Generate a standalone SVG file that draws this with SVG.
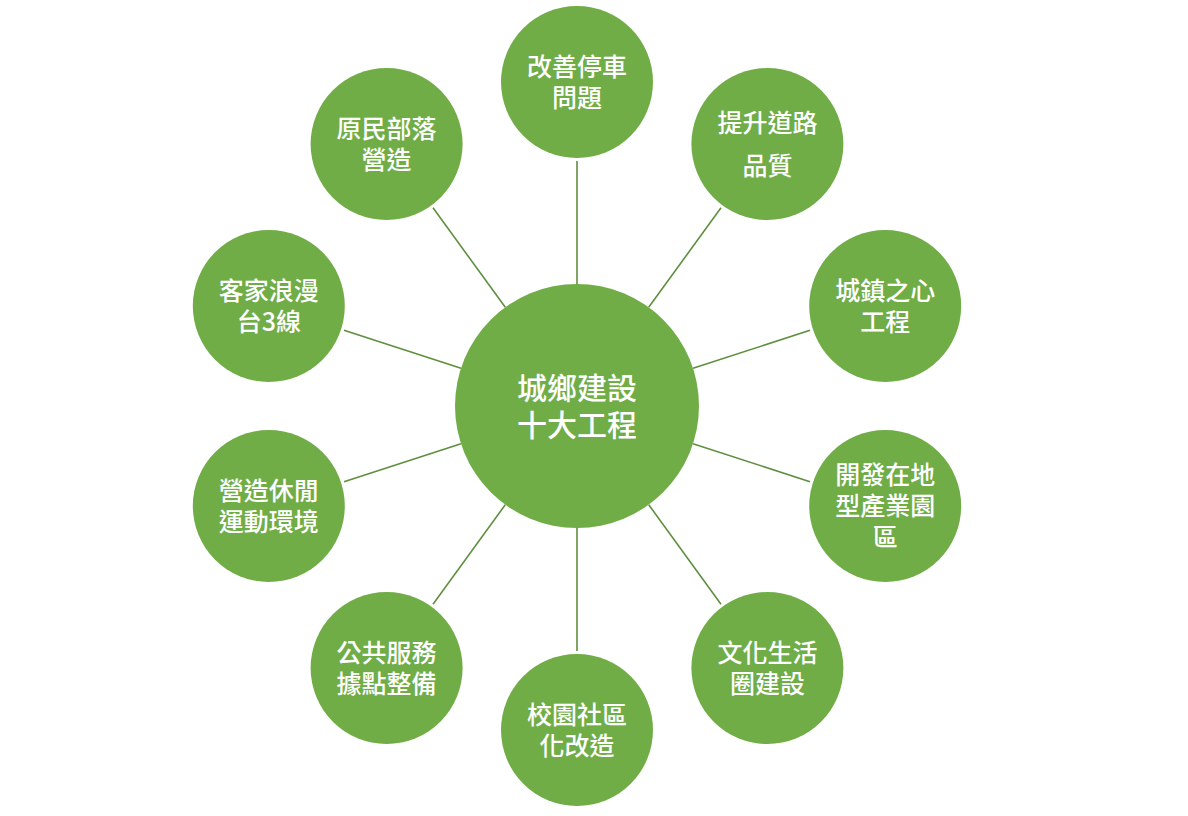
<svg xmlns="http://www.w3.org/2000/svg" width="1188" height="816" viewBox="0 0 1188 816">
<style>
.n{fill:#70AD47}
.t{fill:#ffffff;font-family:"Noto Sans CJK TC","Noto Sans CJK SC",sans-serif;font-size:25px;font-weight:500;text-anchor:middle;dominant-baseline:central}
.c{font-size:30px}
.e{stroke:#5E8F3E;stroke-width:1.6;fill:none}
</style>
<rect width="1188" height="816" fill="#ffffff"/>
<g id="connectors">
<line class="e" x1="577" y1="284" x2="577" y2="161"/>
<line class="e" x1="648.7" y1="307.3" x2="721" y2="207.8"/>
<line class="e" x1="693" y1="368.3" x2="810" y2="330.3"/>
<line class="e" x1="693" y1="443.7" x2="810" y2="481.7"/>
<line class="e" x1="648.7" y1="504.7" x2="721" y2="604.2"/>
<line class="e" x1="577" y1="528" x2="577" y2="651"/>
<line class="e" x1="505.3" y1="504.7" x2="433" y2="604.2"/>
<line class="e" x1="461" y1="443.7" x2="344" y2="481.7"/>
<line class="e" x1="461" y1="368.3" x2="344" y2="330.3"/>
<line class="e" x1="505.3" y1="307.3" x2="433" y2="207.8"/>
</g>
<g id="center">
<circle class="n" cx="577" cy="406" r="122"/>
<text class="t c" x="577" y="386"><tspan x="577">城鄉建設</tspan><tspan x="577" dy="37">十大工程</tspan></text>
</g>
<g id="n1">
<circle class="n" cx="577" cy="82" r="76"/>
<text class="t" x="577" y="65"><tspan x="577">改善停車</tspan><tspan x="577" dy="31">問題</tspan></text>
</g>
<g id="n2">
<circle class="n" cx="767.4" cy="144" r="76"/>
<text class="t" x="767.4" y="121"><tspan x="767.4">提升道路</tspan><tspan x="767.4" dy="43">品質</tspan></text>
</g>
<g id="n3">
<circle class="n" cx="885.2" cy="306" r="76"/>
<text class="t" x="885.2" y="289"><tspan x="885.2">城鎮之心</tspan><tspan x="885.2" dy="31">工程</tspan></text>
</g>
<g id="n4">
<circle class="n" cx="885.2" cy="506" r="76"/>
<text class="t" x="885.2" y="473"><tspan x="885.2">開發在地</tspan><tspan x="885.2" dy="31">型產業園</tspan><tspan x="885.2" dy="31">區</tspan></text>
</g>
<g id="n5">
<circle class="n" cx="767.4" cy="668" r="76"/>
<text class="t" x="767.4" y="651"><tspan x="767.4">文化生活</tspan><tspan x="767.4" dy="31">圈建設</tspan></text>
</g>
<g id="n6">
<circle class="n" cx="577" cy="730" r="76"/>
<text class="t" x="577" y="713"><tspan x="577">校園社區</tspan><tspan x="577" dy="31">化改造</tspan></text>
</g>
<g id="n7">
<circle class="n" cx="386.6" cy="668" r="76"/>
<text class="t" x="386.6" y="651"><tspan x="386.6">公共服務</tspan><tspan x="386.6" dy="31">據點整備</tspan></text>
</g>
<g id="n8">
<circle class="n" cx="268.8" cy="506" r="76"/>
<text class="t" x="268.8" y="489"><tspan x="268.8">營造休閒</tspan><tspan x="268.8" dy="31">運動環境</tspan></text>
</g>
<g id="n9">
<circle class="n" cx="268.8" cy="306" r="76"/>
<text class="t" x="268.8" y="289"><tspan x="268.8">客家浪漫</tspan><tspan x="268.8" dy="31">台3線</tspan></text>
</g>
<g id="n10">
<circle class="n" cx="386.6" cy="144" r="76"/>
<text class="t" x="386.6" y="127"><tspan x="386.6">原民部落</tspan><tspan x="386.6" dy="31">營造</tspan></text>
</g>
</svg>
